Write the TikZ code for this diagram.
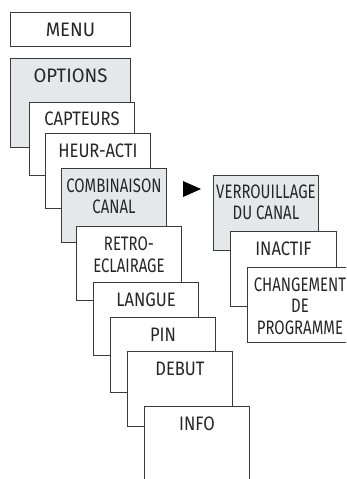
\documentclass[tikz,border=0pt]{standalone}
\usepackage{fontspec}
\setmainfont{Fira Sans}[FakeStretch=0.85]
\usetikzlibrary{calc}
\definecolor{edge}{HTML}{3A3A3A}
\definecolor{shade}{HTML}{E6E7E8}
\tikzset{
  box/.style={draw=edge, line width=0.9pt, fill=white, inner sep=0pt, anchor=north west},
  greybox/.style={box, fill=shade},
  lbl/.style={anchor=north, inner sep=0pt, align=center, text=black!85,
    font=\fontsize{19.5}{21.5}\selectfont},
  narrow/.style={xscale=0.9},
  wide/.style={xscale=1.12},
}
\begin{document}
\begin{tikzpicture}[x=1pt,y=-1pt]
\useasboundingbox (0,0) rectangle (346,479);
\clip (0,0) rectangle (346,479);

% main menu column
\node[box, minimum width=120pt, minimum height=34pt] (menu) at (10,12) {};
\node[lbl, wide] at ($(menu.north)+(0,10.5)$) {MENU};

\node[greybox, minimum width=120pt, minimum height=89pt] (options) at (10,58) {};
\node[lbl, wide] at ($(options.north)+(0,10.5)$) {OPTIONS};

\node[box, minimum width=105pt, minimum height=73pt] (capteurs) at (29,102) {};
\node[lbl] at ($(capteurs.north)+(0,10)$) {CAPTEURS};

\node[box, minimum width=105pt, minimum height=75pt] (heur) at (45,133) {};
\node[lbl] at ($(heur.north)+(0,10.5)$) {HEUR-ACTI};

\node[greybox, minimum width=105pt, minimum height=74pt] (combi) at (61,168) {};
\node[lbl, narrow] at ($(combi.north)+(0,10.5)$) {COMBINAISON\\CANAL};

\node[box, minimum width=105pt, minimum height=74pt] (retro) at (76,226) {};
\node[lbl, narrow] at ($(retro.north)+(0,11)$) {RETRO-\\ECLAIRAGE};

\node[box, minimum width=105pt, minimum height=73pt] (langue) at (93,282) {};
\node[lbl] at ($(langue.north)+(0,10.5)$) {LANGUE};

\node[box, minimum width=105pt, minimum height=75pt] (pin) at (110,317) {};
\node[lbl] at ($(pin.north)+(0,10.5)$) {PIN};

\node[box, minimum width=105pt, minimum height=75pt] (debut) at (127,351) {};
\node[lbl] at ($(debut.north)+(0,10.5)$) {DEBUT};

\node[box, minimum width=105pt, minimum height=90pt] (info) at (144,406) {};
\node[lbl] at ($(info.north)+(0,11)$) {INFO};

% submenu of COMBINAISON CANAL
\fill[black] (183,181) -- (183,197) -- (201,189) -- cycle;

\node[greybox, minimum width=105pt, minimum height=75pt] (verr) at (213,175) {};
\node[lbl, narrow] at ($(verr.north)+(0,9.5)$) {VERROUILLAGE\\DU CANAL};

\node[box, minimum width=106pt, minimum height=75pt] (inactif) at (230,231) {};
\node[lbl] at ($(inactif.north)+(0,11)$) {INACTIF};

\node[box, minimum width=105pt, minimum height=75pt] (change) at (247,267) {};
\node[lbl, narrow] at ($(change.north)+(0,10.5)$) {CHANGEMENT\\DE\\PROGRAMME};
\end{tikzpicture}
\end{document}
